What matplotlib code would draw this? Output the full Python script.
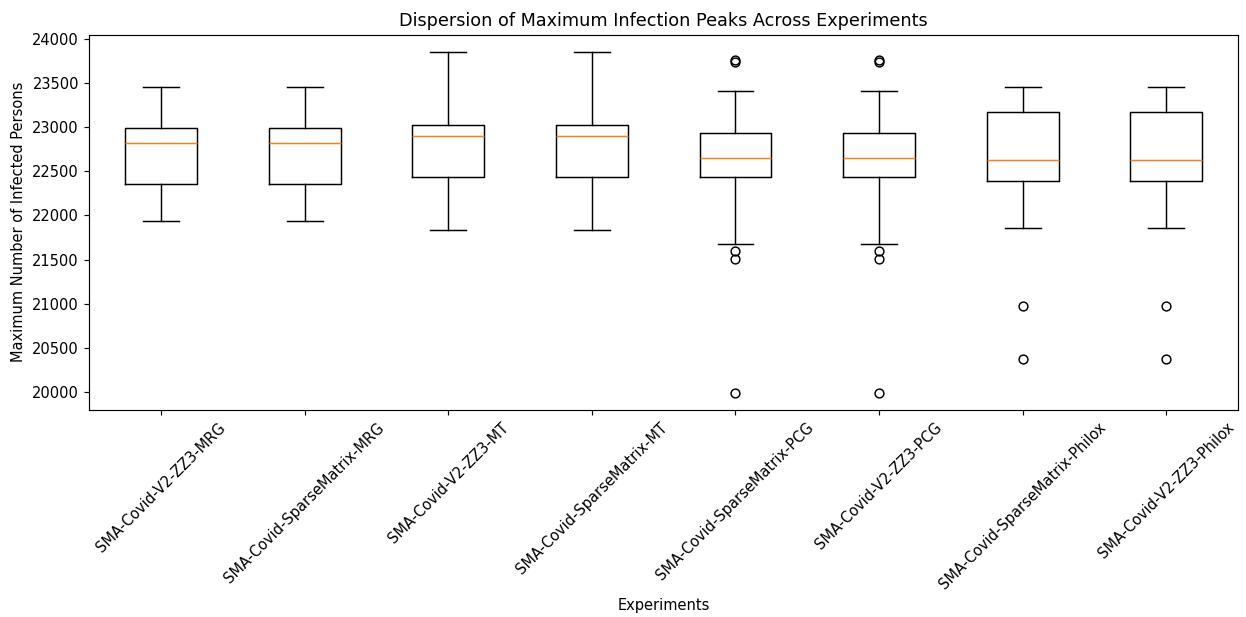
import matplotlib.pyplot as plt

# experiment names in the order shown on the x axis
experiments = ['SMA-Covid-V2-ZZ3-MRG', 'SMA-Covid-SparseMatrix-MRG',
               'SMA-Covid-V2-ZZ3-MT', 'SMA-Covid-SparseMatrix-MT',
               'SMA-Covid-SparseMatrix-PCG', 'SMA-Covid-V2-ZZ3-PCG',
               'SMA-Covid-SparseMatrix-Philox', 'SMA-Covid-V2-ZZ3-Philox']

# box statistics
whisker_low = [21940, 21940, 21834, 21834, 21676, 21676, 21857, 21857]
q1 = [22350, 22350, 22433, 22433, 22433, 22433, 22384, 22384]
median = [22814, 22814, 22900, 22900, 22648, 22648, 22621, 22621]
q3 = [22983, 22983, 23017, 23017, 22934, 22934, 23175, 23175]
whisker_high = [23458, 23458, 23853, 23853, 23412, 23412, 23458, 23458]
outliers = [[], [], [], [],
            [23730, 23760, 21593, 21510, 19995],
            [23730, 23760, 21593, 21510, 19995],
            [20976, 20373],
            [20976, 20373]]

stats = []
for i in range(len(experiments)):
    stats.append({'label': experiments[i],
                  'whislo': whisker_low[i], 'q1': q1[i], 'med': median[i],
                  'q3': q3[i], 'whishi': whisker_high[i],
                  'fliers': outliers[i]})

fig, ax = plt.subplots(figsize=(11.8, 5.843), dpi=105.6)
ax.bxp(stats)
ax.set_title('Dispersion of Maximum Infection Peaks Across Experiments')
ax.set_xlabel('Experiments')
ax.set_ylabel('Maximum Number of Infected Persons')
plt.xticks(rotation=45)
plt.subplots_adjust(left=0.0716, right=0.9936, top=0.944, bottom=0.336)
plt.savefig('out.png')
